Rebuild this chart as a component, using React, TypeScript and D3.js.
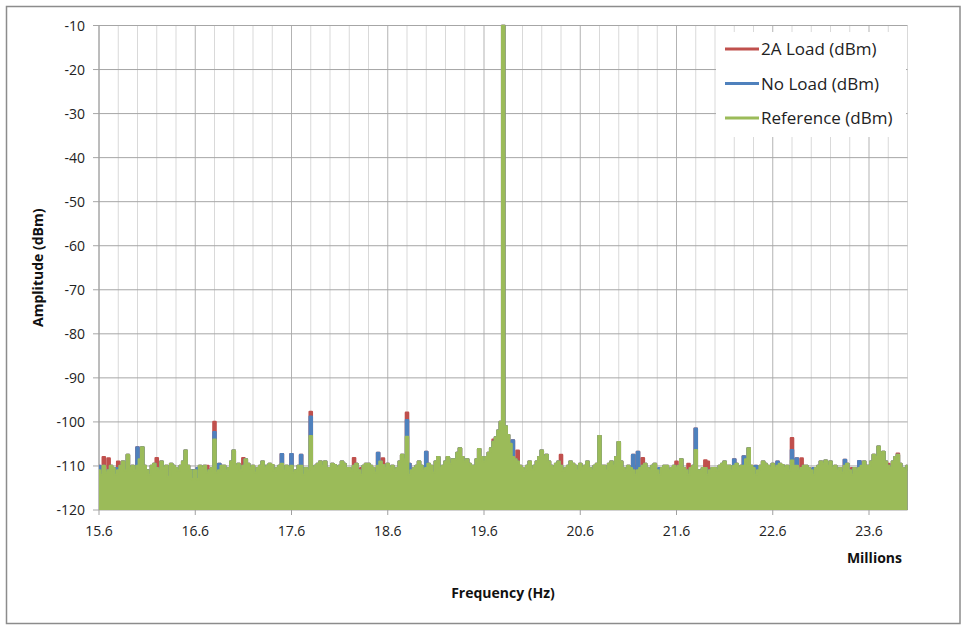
import React from 'react'
import * as d3 from 'd3'

const W = 967
const H = 632

// analyser trace sampled every 25 kHz from 15.6 MHz to 24.0 MHz
const freqStep = 0.025
const freqs = d3.range(337).map(i => +(15.6 + i * freqStep).toFixed(3))

// Reference (dBm), one row per MHz
const referenceDbm = [
  -111, -112, -110, -111.5, -111, -110, -110.5, -112, -111, -110, -109, -111, -107.5, -110.5, -110, -111, -110, -108.5, -105.8, -110,
  -111, -112, -110, -109.5, -110.5, -111, -109, -110.5, -110, -112.5, -109.5, -110, -110.5, -111, -110, -109, -106.5, -110, -111, -113,
  -111, -113, -110, -110.5, -110, -111.5, -111, -110.5, -104, -111.5, -111, -110, -110, -111, -110.5, -109, -106.5, -110, -109.5, -111,
  -110, -108.5, -109.5, -110.5, -110, -111.5, -110.5, -110, -109, -110.5, -110, -109.5, -109.8, -111, -110.5, -110, -109.5, -111, -110, -110.5,
  -110, -111.5, -111, -110, -110, -112, -110.5, -111, -103.2, -110.5, -110, -109.5, -109, -110, -109, -110.5, -110.5, -109.5, -109.8, -110.5,
  -110, -109, -109.5, -110.5, -110.5, -111, -110, -109.5, -111, -112, -110, -109.5, -109.5, -110, -110.5, -111.5, -110, -109, -109.8, -110.5,
  -109.5, -110.5, -110, -111, -110.5, -109, -107.5, -108.5, -103.4, -112, -111, -110.5, -110, -109, -110, -111, -110.5, -109.5, -110, -111.5,
  -109, -108, -110.5, -110, -109, -108, -109.5, -108.5, -108.5, -107, -106, -108, -109, -108.5, -109.5, -110, -110, -108.5, -106.2, -108,
  -109, -108, -107, -106, -104.5, -103.5, -102, -100, -10, -101, -103, -105, -108, -108.5, -109, -110, -110.5, -111, -110, -109,
  -110.8, -110, -109, -108, -106.5, -108, -107.5, -109, -110, -110.5, -109.5, -109, -110, -111, -110.5, -110, -109, -109.5, -110, -111,
  -109.5, -110.5, -110, -109, -110.5, -111, -110, -109.5, -103.2, -110, -110, -111, -109.5, -109, -110, -108, -104.6, -109, -110.5, -111,
  -110, -110.5, -111, -112, -111, -110.5, -110, -109.5, -110.5, -111, -110, -109.5, -111, -112, -110.5, -110, -110, -111, -110.5, -110,
  -110.5, -110, -108.5, -110.5, -111, -112, -110.5, -110, -106.4, -111, -111, -110.5, -110.5, -112, -111, -110.5, -110.5, -111, -110, -109.5,
  -109, -110, -110, -111, -110, -109.5, -110.5, -110, -110, -108.5, -106, -110, -110.5, -112, -111, -110, -109, -109.5, -110, -110.5,
  -109.5, -110.5, -110, -109.5, -109.8, -110.5, -110, -111, -108.8, -110, -110, -111, -110.5, -110, -110, -110.5, -111, -112, -110.5, -110,
  -109, -109.5, -108.8, -110, -109, -110.5, -110, -111, -110.5, -111.5, -110, -109.5, -111, -112, -110.5, -111, -110.5, -110, -109, -110,
  -110, -109, -107.5, -108, -105.6, -107, -106.8, -109, -110, -110.5, -109, -108, -107.5, -109.5, -110.5, -111, -110,
]

// where the No Load trace differs from the reference [MHz, dBm]
const noLoadPeaks: [number, number][] = [
  [15.6, -110], [15.775, -110.5], [16.0, -105.8], [16.575, -111], [16.625, -110.5], [16.8, -102.3],
  [16.85, -109.5], [17.325, -110], [17.5, -107.3], [17.6, -107.3], [17.7, -107.5], [17.725, -110.5],
  [17.8, -98.8], [18.5, -107], [18.8, -99.6], [18.825, -109.5], [19.0, -106.8], [19.9, -104.2],
  [21.15, -107.5], [21.2, -106.8], [21.425, -110.5], [21.8, -101.5], [22.2, -108.5], [22.3, -107.8],
  [22.425, -110], [22.65, -109], [22.8, -106.4], [22.85, -108.3], [23.025, -110.5], [23.35, -108.6],
  [23.5, -108.9],
]

// where the 2A Load trace rises above the others [MHz, dBm]
const loadPeaks: [number, number][] = [
  [15.65, -108], [15.7, -108.3], [15.8, -109], [16.2, -108.2], [16.325, -110.5], [16.725, -110],
  [16.8, -100], [17.1, -108.2], [17.8, -97.7], [18.25, -108.2], [18.325, -110.5], [18.55, -108.3],
  [18.8, -97.9], [19.6, -108.6], [19.7, -104], [19.95, -106.5], [20.4, -107.5], [21.175, -110],
  [21.25, -108.2], [21.6, -109], [21.725, -109.5], [21.9, -108.7], [21.925, -109], [22.8, -103.7],
  [22.9, -108.3], [23.425, -110.5], [23.8, -109.5], [23.9, -107.2],
]

const yTicks = [-10, -20, -30, -40, -50, -60, -70, -80, -90, -100, -110, -120]
const xTickLabels = [15.6, 16.6, 17.6, 18.6, 19.6, 20.6, 21.6, 22.6, 23.6]
const seriesNames = ['2A Load (dBm)', 'No Load (dBm)', 'Reference (dBm)']
const colors = ['#C0504D', '#4F81BD', '#9BBB59']

function withPeaks(base: number[], peaks: [number, number][]) {
  const out = base.slice()
  peaks.forEach(([f, v]) => {
    const i = Math.round((f - 15.6) / freqStep)
    out[i] = v
  })
  return out
}

const noLoadDbm = withPeaks(referenceDbm, noLoadPeaks)
const loadDbm = withPeaks(noLoadDbm, loadPeaks)

export default function App() {
  const left = 99, right = 907.5, top = 25.5, bottom = 510
  const x = d3.scaleLinear().domain([15.6, 24.0]).range([left, right])
  const y = d3.scaleLinear().domain([-120, -10]).range([bottom, top])

  const area = d3.area<number>()
    .x((_, i) => x(freqs[i]))
    .y0(y(-120))
    .y1(d => y(d))
    .curve(d3.curveStep)
  const line = d3.line<number>()
    .x((_, i) => x(freqs[i]))
    .y(d => y(d))
    .curve(d3.curveStep)

  const traces = [loadDbm, noLoadDbm, referenceDbm]
  const gridX = d3.range(43).map(k => +(15.6 + k * 0.2).toFixed(1))
  const font = '"Open Sans", "Noto Sans", sans-serif'

  return (
    <svg width={W} height={H} style={{ display: 'block', position: 'absolute', left: 0, top: 0 }} fontFamily={font}>
      <rect x={0} y={0} width={W} height={H} fill="#fff" />
      <rect x={6.5} y={6.5} width={953.5} height={617} fill="#fff" stroke="#8c8c8c" strokeWidth={1.5} />
      <defs>
        <clipPath id="plot">
          <rect x={left} y={top - 1} width={right - left + 1} height={bottom - top + 1} />
        </clipPath>
      </defs>

      {gridX.map((f, k) => (
        <line key={'gx' + k} x1={x(f)} x2={x(f)} y1={top} y2={bottom}
          stroke={k % 5 === 0 ? '#b3b3b3' : '#d9d9d9'} strokeWidth={1} />
      ))}
      {yTicks.map(t => (
        <line key={'gy' + t} x1={left - 6} x2={right} y1={y(t)} y2={y(t)} stroke="#a6a6a6" strokeWidth={1} />
      ))}
      <line x1={left} x2={left} y1={top} y2={bottom} stroke="#a0a0a0" strokeWidth={1} />

      <g clipPath="url(#plot)">
        {traces.map((vals, s) => (
          <g key={s}>
            <path d={area(vals) || ''} fill={colors[s]} />
            <path d={line(vals) || ''} fill="none" stroke={colors[s]} strokeWidth={2.2} strokeLinejoin="round" />
          </g>
        ))}
      </g>

      {xTickLabels.map(t => (
        <g key={'xt' + t}>
          <line x1={x(t)} x2={x(t)} y1={bottom} y2={bottom + 5} stroke="#a0a0a0" />
          <text x={x(t)} y={536} textAnchor="middle" fontSize={14} fill="#222">{t.toFixed(1)}</text>
        </g>
      ))}
      {yTicks.map(t => (
        <text key={'yt' + t} x={85} y={y(t) + 5} textAnchor="end" fontSize={14} fill="#222">{t}</text>
      ))}

      <text x={902} y={563} textAnchor="end" fontSize={14} fontWeight="bold" fill="#111">Millions</text>
      <text x={503} y={598} textAnchor="middle" fontSize={14} fontWeight="bold" fill="#111">Frequency (Hz)</text>
      <text transform={`translate(43,${(top + bottom) / 2}) rotate(-90)`} textAnchor="middle" fontSize={14} fontWeight="bold" fill="#111">Amplitude (dBm)</text>

      <rect x={716} y={32} width={190} height={105} fill="#fff" />
      {seriesNames.map((name, i) => (
        <g key={name} transform={`translate(0,${49 + i * 34.5})`}>
          <line x1={725} x2={759} y1={0} y2={0} stroke={colors[i]} strokeWidth={3} />
          <text x={761} y={6} fontSize={17} fill="#222">{name}</text>
        </g>
      ))}
    </svg>
  )
}
